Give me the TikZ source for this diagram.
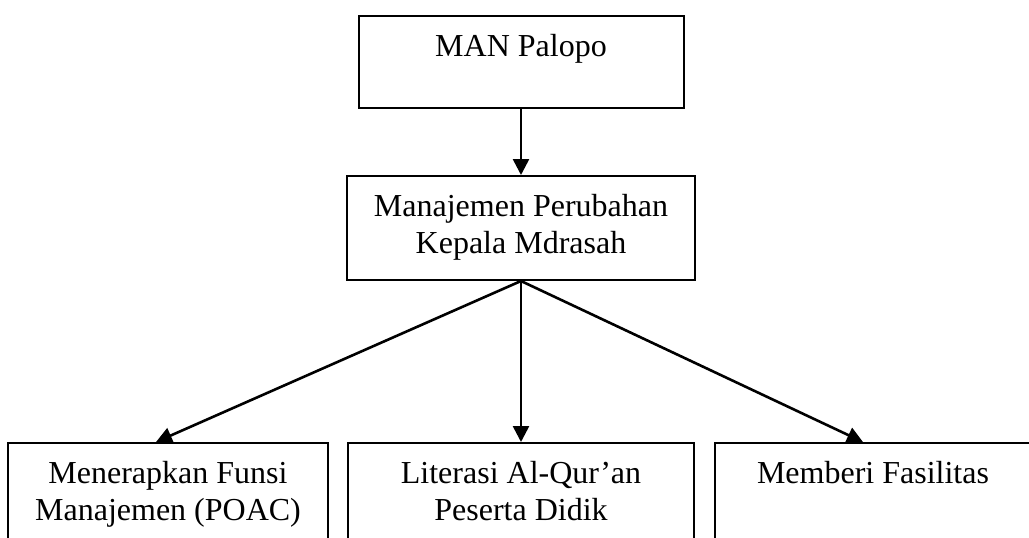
\documentclass[tikz,border=0pt]{standalone}
\usepackage{fontspec}
\setmainfont{Liberation Serif}
\usepackage{tikz}
\usetikzlibrary{positioning,arrows.meta}
\tikzstyle{block} = [rectangle, draw, line width=1pt, align=center, inner ysep=9pt, text height=11pt, font=\fontsize{16}{18.5}\selectfont]
\tikzstyle{twoline} = [text height=29.5pt]
\tikzstyle{line} = [draw, line width=1.3pt, -{Triangle[length=8pt,width=8pt]}]

\begin{document}
\begin{tikzpicture}[node distance = 9pt, auto]
      \useasboundingbox (0,0) rectangle (514.5pt,-268.5pt);
      \clip (0,0) rectangle (514.5pt,-268.5pt);
      \node [block, anchor=north, minimum width=162.5pt, text depth=17pt] (man) at (260.5pt,-7.5pt) {MAN Palopo};
      \node [block, twoline, below=33pt of man, minimum width=174pt, text depth=4.5pt] (perubahan) {Manajemen Perubahan\\Kepala Mdrasah};
      \node [block, twoline, below=80.5pt of perubahan, minimum width=173pt, text depth=12.5pt] (literasi) {Literasi Al-Qur'an\\Peserta Didik};
      \node [block, twoline, left=9pt of literasi, minimum width=160pt, text depth=12.5pt] (poac) {Menerapkan Funsi\\Manajemen (POAC)};
      \node [block, right=9.5pt of literasi, minimum width=158pt, text depth=31pt] (fasilitas) {Memberi Fasilitas};

      \path [line] (man) -- (perubahan);
      \path [line] (perubahan.south) -- ([xshift=-6pt]poac.north);
      \path [line] (perubahan.south) -- (literasi.north);
      \path [line] (perubahan.south) -- ([xshift=-5pt]fasilitas.north);
    \end{tikzpicture}
\end{document}
